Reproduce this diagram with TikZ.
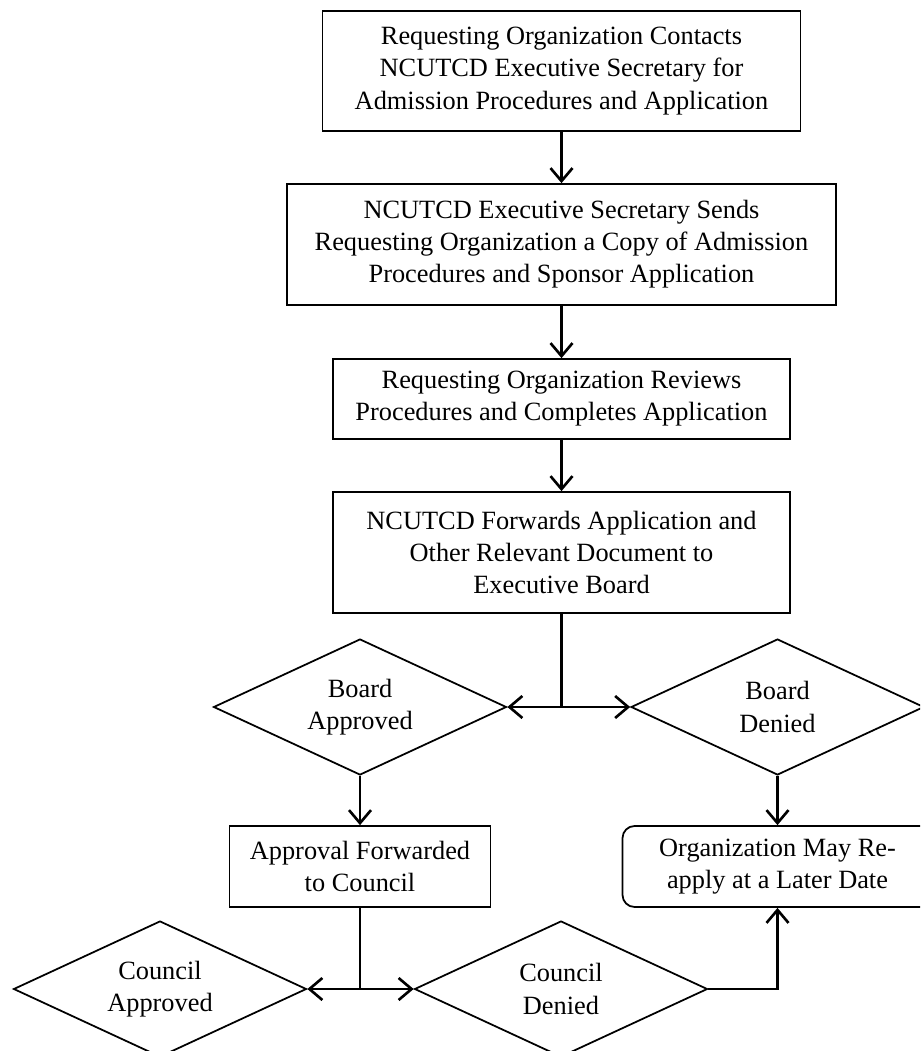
\documentclass[tikz,border=0pt]{standalone}
\usepackage{fontspec}
\setmainfont{Liberation Serif}
\usetikzlibrary{shapes.geometric,arrows.meta}

\tikzset{
  stepbox/.style={draw, rectangle, line width=1pt, align=center, inner sep=2pt, font=\fontsize{15}{18.3}\selectfont},
  decision/.style={draw, diamond, line width=1pt, align=center, inner sep=0pt, text width=2.3cm, aspect=2.15, minimum width=5.86cm, minimum height=2.72cm, font=\fontsize{15}{18.3}\selectfont},
  flow/.style={line width=1.5pt, -{Straight Barb[length=2.6mm,width=4.4mm]}},
  joint/.style={line width=1.5pt}
}

\begin{document}
\begin{tikzpicture}[x=0.02cm, y=-0.02cm]
    \useasboundingbox (0,0) rectangle (920,1051);
    \clip (0,0) rectangle (920,1051);

    \node[stepbox, minimum width=9.56cm, minimum height=2.4cm] at (561.5,71) (contacts) {Requesting Organization Contacts\\NCUTCD Executive Secretary for\\Admission Procedures and Application};
    \node[stepbox, minimum width=10.98cm, minimum height=2.42cm] at (561.5,244.5) (sends) {NCUTCD Executive Secretary Sends\\Requesting Organization a Copy of Admission\\Procedures and Sponsor Application};
    \node[stepbox, minimum width=9.14cm, minimum height=1.6cm] at (561.5,399) (reviews) {Requesting Organization Reviews\\Procedures and Completes Application};
    \node[stepbox, minimum width=9.14cm, minimum height=2.42cm] at (561.5,552.5) (forwards) {NCUTCD Forwards Application and\\Other Relevant Document to\\Executive Board};

    \node[decision] at (360,707) (boardapproved) {Board\\Approved};
    \node[decision] at (777.5,707) (boarddenied) {Board\\Denied};

    \node[stepbox, minimum width=5.22cm, minimum height=1.62cm] at (360,866.5) (tocouncil) {Approval Forwarded\\to Council};
    \node[stepbox, rounded corners=0.24cm, minimum width=6.2cm, minimum height=1.62cm] at (777.5,866.5) (reapply) {Organization May Re-\\apply at a Later Date};

    \node[decision] at (160,989) (councilapproved) {Council\\Approved};
    \node[decision] at (561,989) (councildenied) {Council\\Denied};

    \draw[flow] (contacts) -- (sends);
    \draw[flow] (sends) -- (reviews);
    \draw[flow] (reviews) -- (forwards);

    \coordinate (boardsplit) at (forwards.south |- boardapproved.east);
    \draw[joint] (forwards.south) -- (boardsplit);
    \draw[flow] (boardsplit) -- (boardapproved.east);
    \draw[flow] (boardsplit) -- (boarddenied.west);

    \draw[flow] (boardapproved) -- (tocouncil);
    \draw[flow] (boarddenied) -- (reapply);

    \coordinate (councilsplit) at (tocouncil.south |- councilapproved.east);
    \draw[joint] (tocouncil.south) -- (councilsplit);
    \draw[flow] (councilsplit) -- (councilapproved.east);
    \draw[flow] (councilsplit) -- (councildenied.west);
    \draw[flow] (councildenied.east) -| (reapply.south);
\end{tikzpicture}
\end{document}
